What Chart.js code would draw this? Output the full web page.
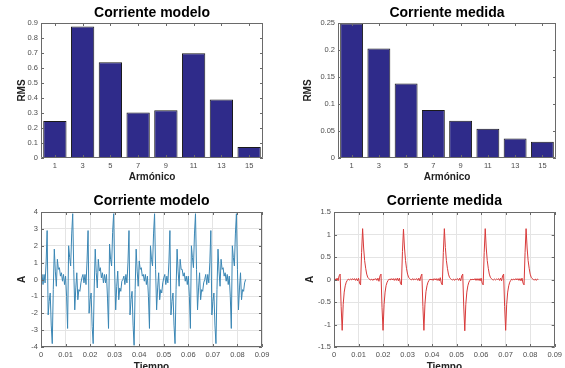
<!DOCTYPE html>
<html lang="es">
<head>
<meta charset="UTF-8">
<title>Corriente modelo / medida</title>
<script src="https://cdn.jsdelivr.net/npm/chart.js"></script>
<style>
  html, body { margin: 0; padding: 0; background: #fff; }
  #lienzo { position: relative; width: 565px; height: 368px; overflow: hidden; }
  #lienzo canvas { position: absolute; left: 0; top: 0; }
</style>
</head>
<body>
<div id="lienzo">
  <canvas id="barModelo" width="565" height="368"></canvas>
  <canvas id="barMedida" width="565" height="368"></canvas>
  <canvas id="ondaModelo" width="565" height="368"></canvas>
  <canvas id="ondaMedida" width="565" height="368"></canvas>
</div>
<script>
const armonicos = ['1', '3', '5', '7', '9', '11', '13', '15'];
const rmsModelo = [0.247, 0.877, 0.639, 0.303, 0.318, 0.699, 0.39, 0.074];
const rmsMedida = [0.249, 0.203, 0.138, 0.089, 0.069, 0.054, 0.036, 0.030];

// formas de onda, muestreadas a 2400 Hz (40 muestras por ciclo de 60 Hz)
const fs = 2400;
const ondaModelo = [
  0.0, 0.3, -0.3, 0.3, -0.2, 1.0, 2.9, -2.1, -1.3, -0.8,
  -2.7, -3.8, -0.6, 1.8, 0.5, -0.4, 1.2, 0.6, 0.7, 0.2,
  0.4, -0.1, 0.3, -0.3, 0.2, -1.0, -2.9, 2.0, 1.3, 0.8,
  2.7, 3.9, 0.6, -1.8, -0.5, 0.4, -1.2, -0.6, -0.7, -0.2,
  0.1, 0.3, -0.2, 0.3, -0.3, 1.1, 2.9, -2.0, -1.2, -0.8,
  -2.8, -3.8, -0.5, 1.8, 0.4, -0.5, 1.2, 0.5, 0.7, 0.1,
  0.4, -0.2, 0.3, -0.2, 0.3, -1.1, -2.9, 2.1, 1.2, 0.8,
  2.8, 3.9, 0.5, -1.8, -0.4, 0.5, -1.2, -0.5, -0.7, -0.1,
  0.0, 0.2, -0.3, 0.3, -0.2, 1.0, 2.9, -2.1, -1.2, -0.7,
  -2.7, -3.9, -0.6, 1.8, 0.5, -0.4, 1.1, 0.6, 0.7, 0.2,
  0.3, -0.1, 0.3, -0.3, 0.2, -1.0, -2.9, 2.0, 1.2, 0.8,
  2.7, 3.9, 0.6, -1.8, -0.5, 0.4, -1.2, -0.6, -0.8, -0.2,
  0.1, 0.3, -0.3, 0.2, -0.2, 1.0, 2.9, -2.1, -1.3, -0.8,
  -2.7, -3.8, -0.6, 1.8, 0.5, -0.4, 1.2, 0.6, 0.6, 0.2,
  0.4, -0.1, 0.2, -0.3, 0.2, -1.0, -2.9, 2.0, 1.3, 0.7,
  2.7, 3.9, 0.6, -1.8, -0.5, 0.4, -1.2, -0.6, -0.7, -0.2,
  0.0, 0.3, -0.3, 0.3, -0.2, 1.0, 2.9, -2.1, -1.3, -0.8,
  -2.7, -3.8, -0.6, 1.8, 0.5, -0.4, 1.2, 0.6, 0.7, 0.2,
  0.4, -0.1, 0.3, -0.3, 0.2, -1.0, -2.9, 2.0, 1.3, 0.8,
  2.7, 3.9, 0.6, -1.8, -0.5, 0.4, -1.2, -0.6, -0.7, -0.2,
  0.0
];
const ondaMedida = [
  0.00, 0.02, -0.02, 0.03, -0.03, 0.08, 0.12, -0.60, -1.13, -0.55,
  -0.28, -0.14, -0.06, -0.02, 0.01, -0.01, 0.01, -0.01, 0.02, -0.01,
  0.02, -0.02, 0.02, -0.03, 0.03, -0.08, -0.12, 0.60, 1.13, 0.70,
  0.42, 0.25, 0.12, 0.05, 0.02, 0.00, -0.01, 0.01, -0.02, 0.01,
  0.00, 0.02, -0.02, 0.03, -0.04, 0.08, 0.12, -0.62, -1.13, -0.56,
  -0.28, -0.13, -0.06, -0.02, 0.01, -0.01, 0.02, -0.01, 0.02, -0.02,
  0.02, -0.02, 0.03, -0.03, 0.03, -0.08, -0.12, 0.62, 1.12, 0.70,
  0.42, 0.24, 0.12, 0.05, 0.02, 0.00, -0.01, 0.02, -0.01, 0.01,
  0.00, 0.02, -0.02, 0.03, -0.03, 0.07, 0.12, -0.60, -1.13, -0.55,
  -0.27, -0.14, -0.06, -0.02, 0.01, -0.01, 0.01, -0.02, 0.02, -0.01,
  0.02, -0.02, 0.02, -0.03, 0.04, -0.08, -0.12, 0.60, 1.13, 0.71,
  0.42, 0.25, 0.12, 0.05, 0.02, 0.00, -0.01, 0.01, -0.02, 0.01,
  0.00, 0.02, -0.02, 0.03, -0.03, 0.08, 0.12, -0.61, -1.14, -0.55,
  -0.28, -0.14, -0.06, -0.02, 0.01, -0.01, 0.01, -0.01, 0.02, -0.02,
  0.02, -0.02, 0.02, -0.03, 0.03, -0.08, -0.12, 0.60, 1.13, 0.70,
  0.42, 0.25, 0.12, 0.05, 0.02, 0.00, -0.01, 0.01, -0.01, 0.01,
  0.00, 0.02, -0.02, 0.03, -0.03, 0.08, 0.12, -0.60, -1.13, -0.55,
  -0.28, -0.14, -0.06, -0.02, 0.01, -0.01, 0.01, -0.01, 0.02, -0.01,
  0.02, -0.02, 0.02, -0.03, 0.03, -0.08, -0.12, 0.60, 1.13, 0.70,
  0.42, 0.25, 0.12, 0.05, 0.02, 0.00, -0.01, 0.01, -0.02, 0.01,
  0.00
];

Chart.defaults.font.family = "'Liberation Sans', Arial, sans-serif";
Chart.defaults.color = '#4d4d4d';
Chart.defaults.animation = false;

// marco de ejes con marcas hacia dentro (estilo MATLAB)
const marco = {
  id: 'marco',
  afterDatasetsDraw(chart) {
    const { ctx, chartArea: a, scales: { x, y } } = chart;
    const len = 3;
    ctx.save();
    ctx.strokeStyle = '#6a6a6a';
    ctx.lineWidth = 1;
    ctx.beginPath();
    ctx.rect(Math.round(a.left) + 0.5, Math.round(a.top) + 0.5,
             Math.round(a.right - a.left) - 1, Math.round(a.bottom - a.top) - 1);
    x.ticks.forEach((t, i) => {
      const px = Math.round(x.getPixelForTick(i)) + 0.5;
      ctx.moveTo(px, a.bottom); ctx.lineTo(px, a.bottom - len);
      ctx.moveTo(px, a.top); ctx.lineTo(px, a.top + len);
    });
    y.ticks.forEach((t, i) => {
      const py = Math.round(y.getPixelForTick(i)) + 0.5;
      ctx.moveTo(a.left, py); ctx.lineTo(a.left + len, py);
      ctx.moveTo(a.right, py); ctx.lineTo(a.right - len, py);
    });
    ctx.stroke();
    ctx.restore();
  }
};

const fmt = v => String(+Number(v).toFixed(2));
const tickFont = { size: 7.5 };
const labelFont = { size: 10, weight: 'bold' };

function titulo(texto, padBottom) {
  return {
    display: true, text: texto, color: '#000', fullSize: false,
    font: { size: 14, weight: 'bold' }, padding: { top: 0, bottom: padBottom }
  };
}

function graficaBarras(id, valores, texto, yMax, paso, yW, pad, tituloY) {
  new Chart(document.getElementById(id), {
    type: 'bar',
    data: {
      labels: armonicos,
      datasets: [{
        data: valores,
        backgroundColor: '#2f2b8a',
        borderColor: '#1a1a1a',
        borderWidth: 1,
        barPercentage: 0.84,
        categoryPercentage: 1
      }]
    },
    options: {
      responsive: false,
      layout: { padding: pad },
      plugins: { legend: { display: false }, tooltip: { enabled: false }, title: titulo(texto, 1) },
      scales: {
        x: {
          grid: { display: false, drawTicks: false }, border: { display: false },
          ticks: { font: tickFont, padding: 3, maxRotation: 0 },
          title: { display: true, text: 'Armónico', color: '#222', font: labelFont, padding: { top: 0, bottom: 0 } },
          afterFit: s => { s.height = 25; }
        },
        y: {
          min: 0, max: yMax,
          grid: { display: false, drawTicks: false }, border: { display: false },
          ticks: { stepSize: paso, font: tickFont, padding: 3, callback: fmt },
          title: { display: true, text: 'RMS', color: '#222', font: labelFont, padding: { top: tituloY, bottom: 0 } },
          afterFit: s => { s.width = yW; }
        }
      }
    },
    plugins: [marco]
  });
}

function graficaOnda(id, valores, texto, color, yMin, yMax, paso, yW, pad, tituloY) {
  new Chart(document.getElementById(id), {
    type: 'line',
    data: {
      datasets: [{
        data: valores.map((v, i) => ({ x: i / fs, y: v })),
        borderColor: color,
        borderWidth: 1,
        pointRadius: 0,
        tension: 0,
        fill: false
      }]
    },
    options: {
      responsive: false,
      layout: { padding: pad },
      plugins: { legend: { display: false }, tooltip: { enabled: false }, title: titulo(texto, 2) },
      scales: {
        x: {
          type: 'linear', min: 0, max: 0.09,
          grid: { color: '#e4e4e4', drawTicks: false }, border: { display: false },
          ticks: { stepSize: 0.01, font: tickFont, padding: 3, maxRotation: 0, callback: fmt },
          title: { display: true, text: 'Tiempo', color: '#222', font: labelFont, padding: { top: 0, bottom: -5 } },
          afterFit: s => { s.height = 21; }
        },
        y: {
          min: yMin, max: yMax,
          grid: { color: '#e4e4e4', drawTicks: false }, border: { display: false },
          ticks: { stepSize: paso, font: tickFont, padding: 3, callback: fmt },
          title: { display: true, text: 'A', color: '#222', font: labelFont, padding: { top: tituloY, bottom: 0 } },
          afterFit: s => { s.width = yW; }
        }
      }
    },
    plugins: [marco]
  });
}

graficaBarras('barModelo', rmsModelo, 'Corriente modelo', 0.9, 0.1, 30,
  { left: 11, top: 5.2, right: 302, bottom: 185 }, 5);
graficaBarras('barMedida', rmsMedida, 'Corriente medida', 0.25, 0.05, 40,
  { left: 298, top: 5.2, right: 9, bottom: 185 }, 4);
graficaOnda('ondaModelo', ondaModelo, 'Corriente modelo', '#3a86b4', -4, 4, 1, 30,
  { left: 11, top: 193.2, right: 303, bottom: 0 }, 5);
graficaOnda('ondaMedida', ondaMedida, 'Corriente medida', '#d83a3a', -1.5, 1.5, 0.5, 34,
  { left: 300, top: 193.2, right: 10, bottom: 0 }, 4);
</script>
</body>
</html>
